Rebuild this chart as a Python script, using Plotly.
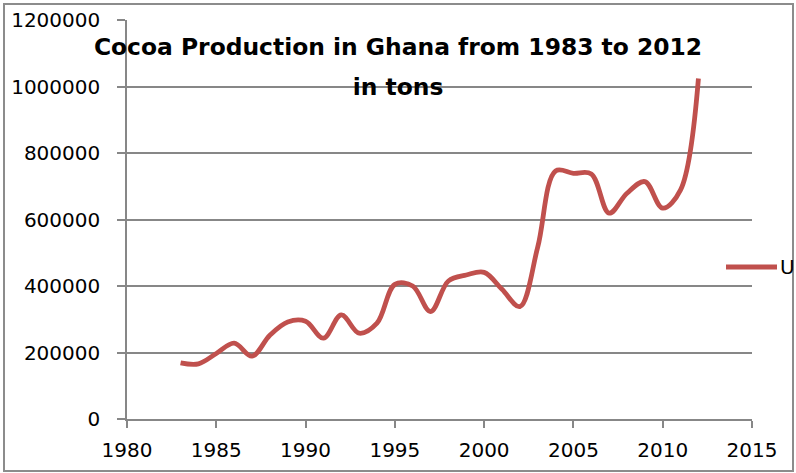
import plotly.graph_objects as go

years = [1983, 1984, 1985, 1986, 1987, 1988, 1989, 1990, 1991, 1992,
         1993, 1994, 1995, 1996, 1997, 1998, 1999, 2000, 2001, 2002,
         2003, 2004, 2005, 2006, 2007, 2008, 2009, 2010, 2011, 2012]
production = [169000, 166000, 197000, 228000, 189000, 252000, 292000, 294000, 243000, 313000,
              258000, 288000, 405000, 400000, 323000, 415000, 433000, 441000, 390000, 338000,
              517000, 746000, 739000, 737000, 619000, 679000, 714000, 634000, 689000, 1024000]
series_name = "U"
title_lines = ["Cocoa Production in Ghana from 1983 to 2012", "in tons"]

RED = "#C0504D"
GRID = "#878787"
FONT = "DejaVu Sans"

title_text = "<br>".join(
    f"<span style='font-size:23.4px'>{t}</span>" for t in title_lines)

fig = go.Figure()
fig.add_trace(go.Scatter(
    x=years, y=production, mode="lines", name=series_name,
    line=dict(color=RED, width=4.8, shape="spline", smoothing=1.0),
    showlegend=False,
))

fig.update_layout(
    width=796, height=473,
    margin=dict(l=127, r=44, t=20, b=54),
    paper_bgcolor="white", plot_bgcolor="white",
    title=dict(text=title_text, x=0.5, xref="container", xanchor="center",
               y=1 - 55 / 473, yref="container", yanchor="top",
               font=dict(family="DejaVu Sans", size=31, color="black", weight="bold")),
    xaxis=dict(range=[1980, 2015], dtick=5, tick0=1980, showgrid=False,
               showline=True, linecolor=GRID, linewidth=1.5, automargin=False,
               ticks="outside", ticklen=7, tickcolor=GRID, tickwidth=1.5,
               ticklabelstandoff=5,
               tickfont=dict(family=FONT, size=20, color="black"), zeroline=False),
    yaxis=dict(range=[0, 1200000], dtick=200000, tickformat="d", showgrid=True,
               gridcolor=GRID, gridwidth=1.5, automargin=False,
               showline=True, linecolor=GRID, linewidth=1.5,
               ticks="outside", ticklen=8, tickcolor=GRID, tickwidth=1.5,
               ticklabelstandoff=13,
               tickfont=dict(family=FONT, size=20, color="black"), zeroline=False),
    shapes=[
        dict(type="rect", xref="paper", yref="paper",
             x0=(4 - 127) / 625, x1=(793 - 127) / 625,
             y0=(419 - 471) / 399, y1=(419 - 4) / 399,
             line=dict(color="#8c8c8c", width=2), fillcolor="rgba(0,0,0,0)", layer="above"),
        dict(type="line", xref="paper", yref="paper",
             x0=(726 - 127) / 625, x1=(777 - 127) / 625,
             y0=(419 - 267) / 399, y1=(419 - 267) / 399,
             line=dict(color=RED, width=5)),
    ],
    annotations=[
        dict(text=series_name, xref="paper", yref="paper",
             x=(778 - 127) / 625, y=(419 - 267) / 399, xanchor="left", yanchor="middle",
             showarrow=False, font=dict(family=FONT, size=20, color="black")),
    ],
)

fig.write_html("out.html", config={"displayModeBar": False},
               post_script="document.body.style.margin='0';")
